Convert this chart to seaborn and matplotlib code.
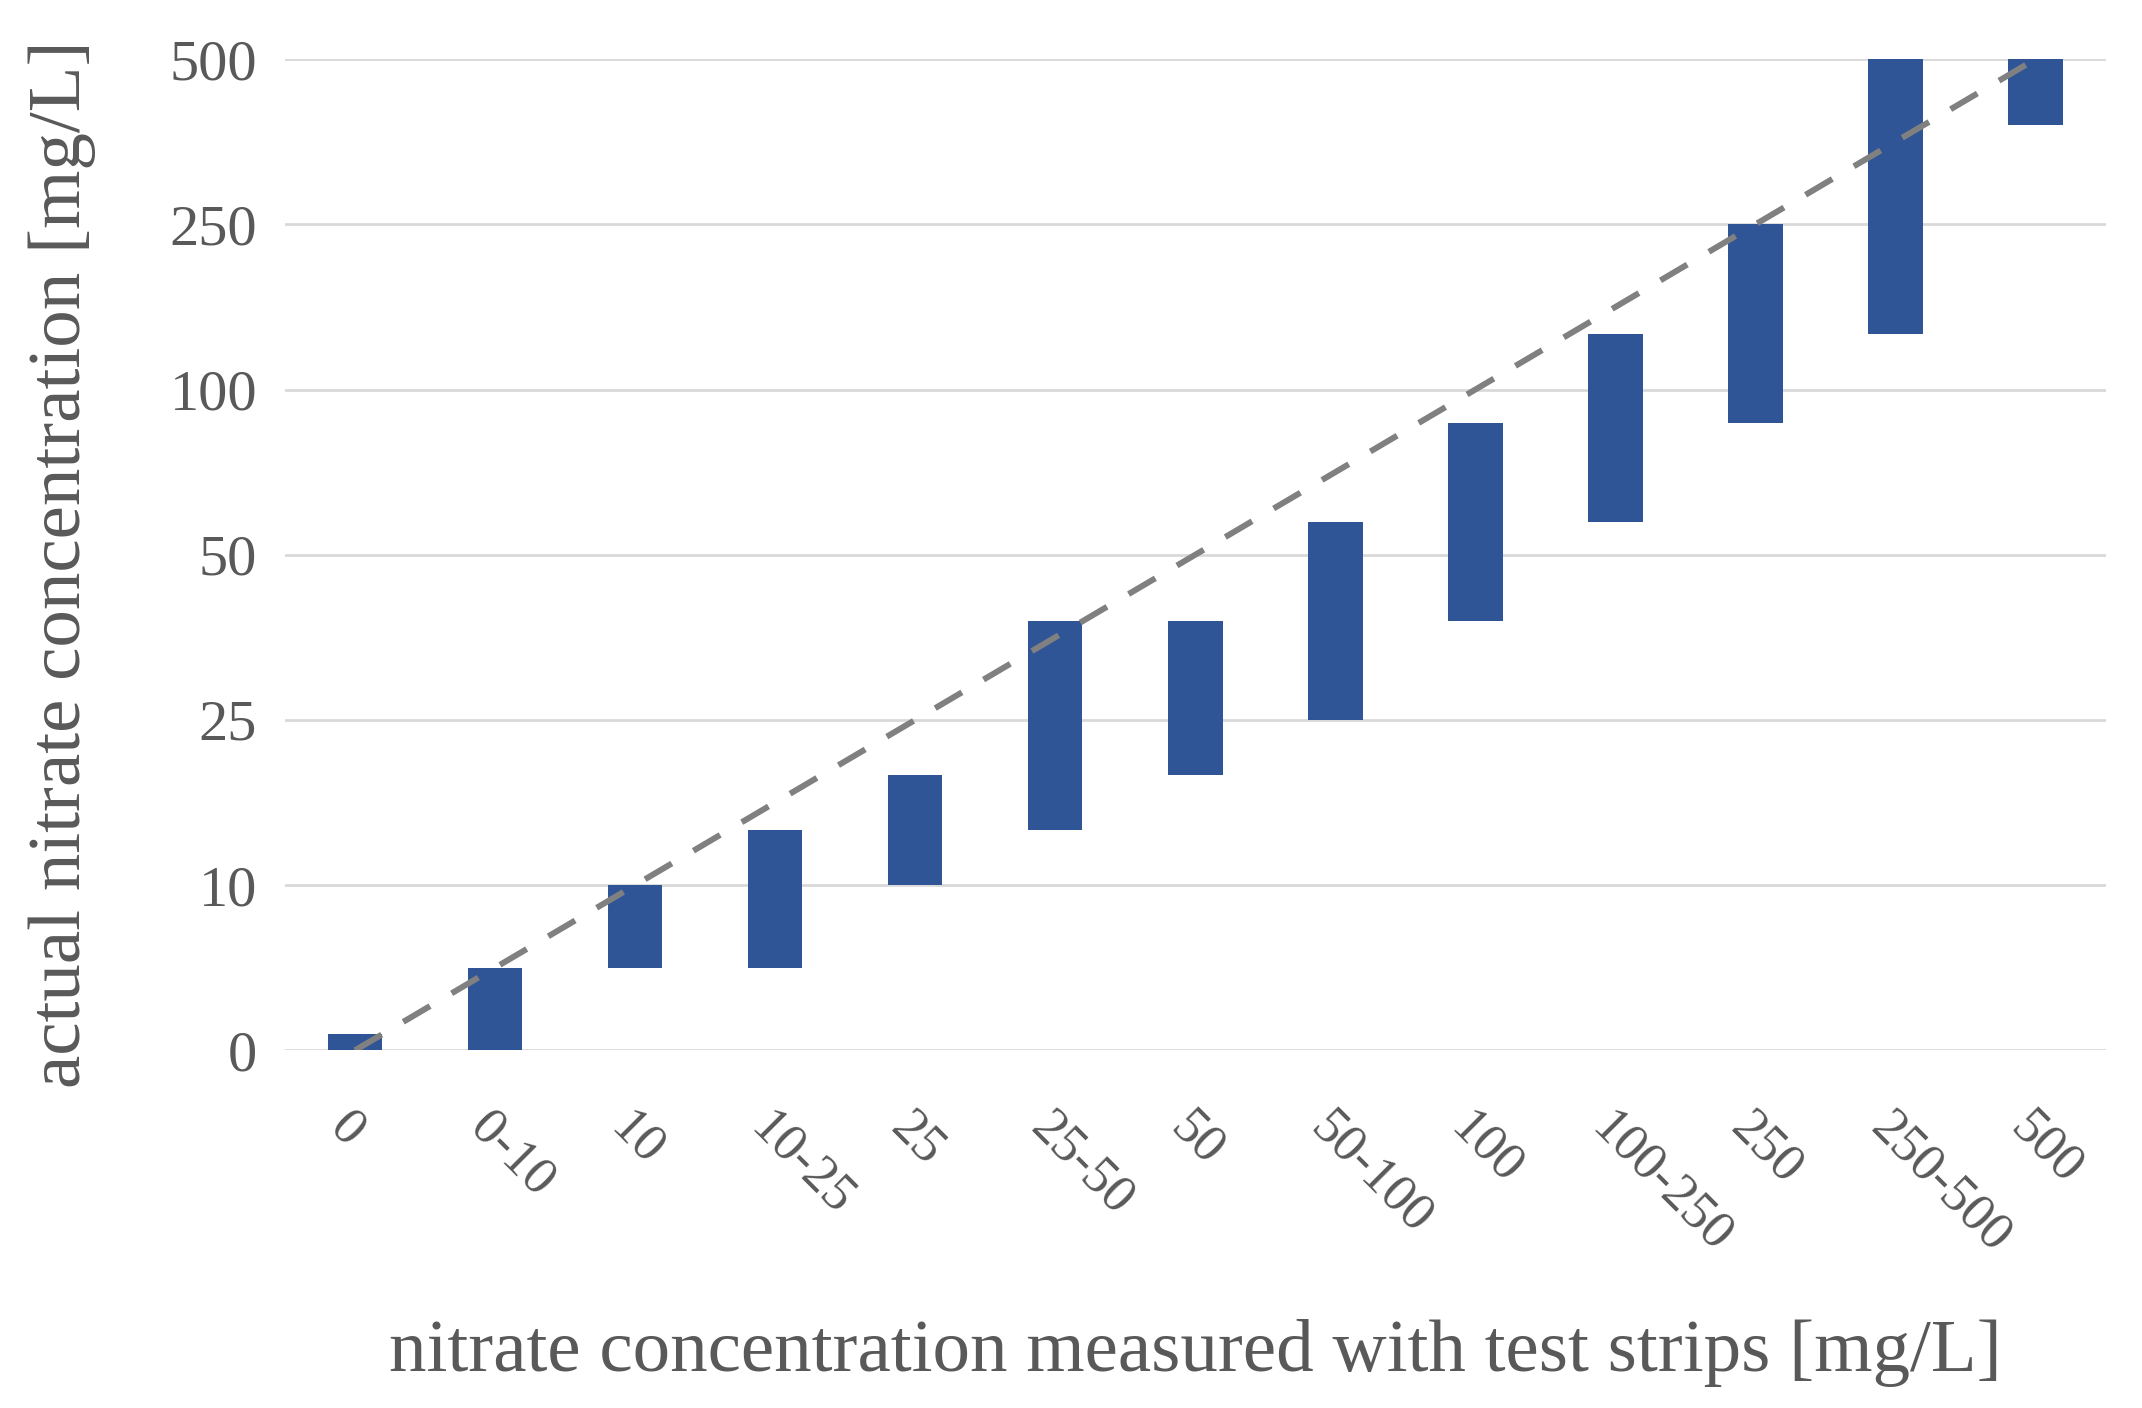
import numpy as np
import pandas as pd
import matplotlib
matplotlib.use("Agg")
import matplotlib.pyplot as plt
import seaborn as sns
from matplotlib.ticker import FixedLocator, FixedFormatter, NullLocator

# ---- data (mg/L) ----
categories = ["0", "0-10", "10", "10-25", "25", "25-50", "50",
              "50-100", "100", "100-250", "250", "250-500", "500"]
actual_low = [0, 0, 5, 5, 10, 15, 20, 25, 40, 60, 90, 150, 400]
actual_high = [1, 5, 10, 15, 20, 40, 40, 60, 90, 150, 250, 500, 500]
y_ticks = [0, 10, 25, 50, 100, 250, 500]
y_tick_labels = ["0", "10", "25", "50", "100", "250", "500"]
ref_cats = ["0", "500"]          # 1:1 reference line from strip "0" to strip "500"
ref_values = [0, 500]

x_label = "nitrate concentration measured with test strips [mg/L]"
y_label = "actual nitrate concentration [mg/L]"

BAR = "#2F5597"
TXT = "#595959"
GRID = "#D9D9D9"
LINE = "#808080"

sns.set_theme(style="white")
plt.rcParams["font.family"] = ["Liberation Serif", "DejaVu Serif"]

fig = plt.figure(figsize=(21.42, 14.08), dpi=100)
ax = fig.add_axes([0.133, 0.254, 0.850, 0.704])

df = pd.DataFrame({
    "category": categories,
    "low": actual_low,
    "span": np.array(actual_high) - np.array(actual_low),
})

sns.barplot(data=df, x="category", y="span", bottom=df["low"].to_numpy(),
            order=categories, color=BAR, saturation=1, width=0.39,
            errorbar=None, ax=ax, zorder=2, linewidth=0)

# ordinal (piecewise-linear) value axis
pos = np.arange(len(y_ticks), dtype=float)

def fwd(v):
    return np.interp(np.asarray(v, dtype=float), y_ticks, pos)

def inv(p):
    return np.interp(np.asarray(p, dtype=float), pos, y_ticks)

ax.set_yscale("function", functions=(fwd, inv))
ax.set_ylim(y_ticks[0], y_ticks[-1])
ax.yaxis.set_major_locator(FixedLocator(y_ticks))
ax.yaxis.set_major_formatter(FixedFormatter(y_tick_labels))
ax.yaxis.set_minor_locator(NullLocator())

# reference 1:1 line
ref_x = [categories.index(c) for c in ref_cats]
ax.plot(ref_x, ref_values, color=LINE, lw=4.3, ls=(0, (5.2, 4.2)),
        zorder=3, dash_capstyle="butt")

ax.set_xlim(-0.5, len(categories) - 0.5)
ax.set_xticks(range(len(categories)))
ax.set_xticklabels(categories, rotation=-45, ha="left", va="top",
                   rotation_mode="anchor")

ax.grid(axis="y", color=GRID, lw=2, zorder=0)
ax.grid(axis="x", visible=False)
ax.set_axisbelow(True)
for s in ax.spines.values():
    s.set_visible(False)

ax.tick_params(axis="both", length=0, colors=TXT)
ax.tick_params(axis="y", pad=20, labelsize=42)
ax.tick_params(axis="x", pad=38, labelsize=38)

ax.set_xlabel(x_label, fontsize=54, color=TXT)
ax.set_ylabel(y_label, fontsize=54, color=TXT)
ax.xaxis.set_label_coords(0.5, -0.305)
ax.xaxis.label.set_verticalalignment("center")
ax.yaxis.set_label_coords(-0.1225, 0.49)
ax.yaxis.label.set_verticalalignment("center")

fig.savefig("out.png", dpi=100, facecolor="white")
